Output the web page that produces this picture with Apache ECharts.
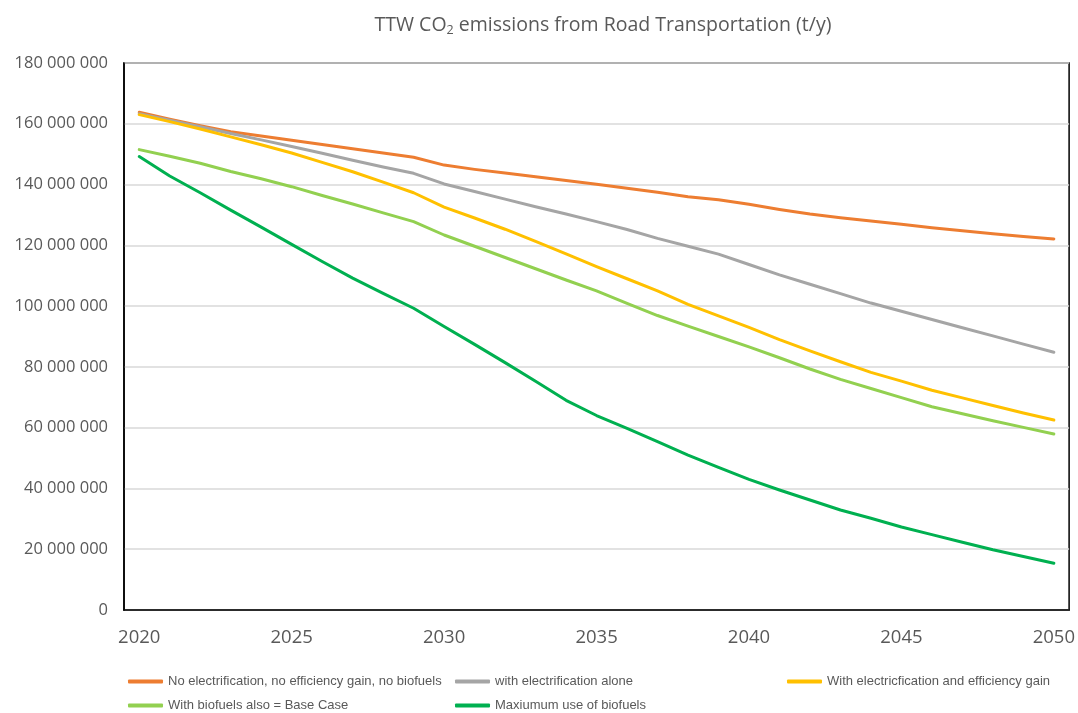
<!DOCTYPE html>
<html>
<head>
<meta charset="utf-8">
<script src="https://cdn.jsdelivr.net/npm/echarts@6/dist/echarts.min.js"></script>
<style>
  html, body { margin: 0; padding: 0; background: #ffffff; }
  #chart { width: 1078px; height: 713px; }
</style>
</head>
<body>
<div id="chart"></div>
<script>
const years = ['2020','2021','2022','2023','2024','2025','2026','2027','2028','2029','2030',
  '2031','2032','2033','2034','2035','2036','2037','2038','2039','2040',
  '2041','2042','2043','2044','2045','2046','2047','2048','2049','2050'];

const seriesNames = [
  'No electrification, no efficiency gain, no biofuels',
  'with electrification alone',
  'With electricfication and efficiency gain',
  'With biofuels also = Base Case',
  'Maxiumum use of biofuels'
];

// values in millions of t/y
const noElectrification = [163.8,161.5,159.4,157.4,156.0,154.6,153.2,151.8,150.4,149.0,146.4,
  145.0,143.8,142.6,141.3,140.1,138.8,137.5,136.0,135.0,133.5,
  131.8,130.3,129.1,128.0,126.9,125.8,124.8,123.8,122.9,122.1];
const electrificationAlone = [163.3,161.2,159.0,156.8,154.7,152.5,150.3,148.0,145.8,143.7,140.2,
  137.7,135.2,132.7,130.3,127.8,125.2,122.3,119.7,117.1,113.7,
  110.3,107.2,104.1,101.0,98.3,95.6,92.9,90.2,87.5,84.8];
const electrificationEfficiency = [163.0,160.7,158.3,155.7,153.1,150.4,147.3,144.2,140.8,137.3,132.6,
  129.0,125.3,121.3,117.2,113.0,109.0,105.0,100.6,96.8,93.0,
  89.0,85.3,81.7,78.2,75.3,72.3,69.8,67.3,64.8,62.5];
const baseCase = [151.5,149.3,147.0,144.3,141.9,139.3,136.4,133.6,130.7,127.8,123.4,
  119.7,116.0,112.3,108.6,105.0,100.9,96.9,93.4,90.0,86.6,
  83.0,79.3,75.9,72.9,69.9,66.9,64.6,62.3,60.1,57.9];
const maxBiofuels = [149.2,142.8,137.3,131.6,126.0,120.3,114.7,109.2,104.2,99.3,93.3,
  87.4,81.4,75.3,69.0,64.0,59.8,55.4,51.0,46.9,43.0,
  39.5,36.2,32.9,30.2,27.3,24.8,22.3,19.8,17.6,15.4];

const colors = ['#ED7D31', '#A5A5A5', '#FFC000', '#92D050', '#00B050'];
const yTicks = { min: 0, max: 180000000, interval: 20000000 };

const toUnits = arr => arr.map(v => Math.round(v * 1e6));
const dataSets = [noElectrification, electrificationAlone, electrificationEfficiency, baseCase, maxBiofuels];

const fmt = v => String(v).replace(/\B(?=(\d{3})+(?!\d))/g, ' ');

const legendFont = { fontFamily: 'Liberation Sans, Arial, sans-serif', fontSize: 13, color: '#595959' };
const legendPos = [
  { left: 128, top: 675 },
  { left: 455, top: 675 },
  { left: 787, top: 675 },
  { left: 128, top: 699 },
  { left: 455, top: 699 }
];

const chart = echarts.init(document.getElementById('chart'), null, { renderer: 'canvas' });
chart.setOption({
  backgroundColor: '#ffffff',
  animation: false,
  title: {
    text: 'TTW CO{sub|2} emissions from Road Transportation (t/y)',
    left: 598,
    top: 8,
    textAlign: 'center',
    textStyle: {
      fontFamily: 'Open Sans, sans-serif',
      fontSize: 19.5,
      fontWeight: 'normal',
      color: '#595959',
      rich: {
        sub: { fontFamily: 'Open Sans, sans-serif', fontSize: 12.5, color: '#595959', padding: [11, 0, 0, 0] }
      }
    }
  },
  legend: seriesNames.map((n, i) => ({
    data: [n],
    left: legendPos[i].left,
    top: legendPos[i].top,
    icon: 'roundRect',
    itemWidth: 35,
    itemHeight: 4,
    itemGap: 0,
    textStyle: legendFont,
    padding: 0,
    selectedMode: false
  })),
  grid: {
    left: 124, right: 8, top: 63, bottom: 103,
    show: true, borderColor: '#000000', borderWidth: 1.5,
    containLabel: false
  },
  xAxis: {
    type: 'category',
    data: years,
    boundaryGap: true,
    axisLine: { show: true, lineStyle: { color: '#000000', width: 1.5 } },
    axisTick: { show: false },
    axisLabel: { interval: 4, margin: 18, fontFamily: 'Open Sans, sans-serif', fontSize: 18.5, color: '#595959' },
    splitLine: { show: false }
  },
  yAxis: {
    type: 'value',
    min: yTicks.min, max: yTicks.max, interval: yTicks.interval,
    axisLine: { show: true, lineStyle: { color: '#000000', width: 1.5 } },
    axisTick: { show: false },
    axisLabel: { margin: 16, fontFamily: 'Open Sans, sans-serif', fontSize: 16.5, color: '#595959', formatter: fmt },
    splitLine: { show: true, lineStyle: { color: '#D9D9D9', width: 1.5 } }
  },
  series: seriesNames.map((n, i) => ({
    name: n,
    type: 'line',
    data: toUnits(dataSets[i]),
    showSymbol: false,
    symbol: 'none',
    smooth: false,
    color: colors[i],
    lineStyle: { color: colors[i], width: 3, cap: 'round', join: 'round' },
    emphasis: { disabled: true }
  }))
});
</script>
</body>
</html>
